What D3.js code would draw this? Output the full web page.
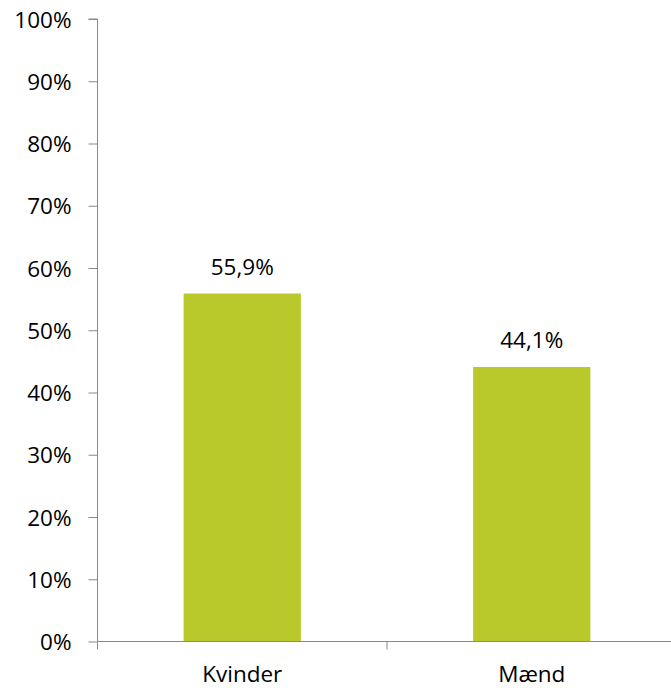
<!DOCTYPE html>
<html>
<head>
<meta charset="utf-8">
<script src="https://cdn.jsdelivr.net/npm/d3@7"></script>
<style>
  html, body { margin: 0; padding: 0; background: #fff; overflow: hidden; }
  svg { display: block; }
  text { font-family: "Open Sans", "Noto Sans", sans-serif; fill: #000; }
</style>
</head>
<body>
<script>
const categories = ["Kvinder", "Mænd"];
const values = [55.9, 44.1];
const valueLabels = ["55,9%", "44,1%"];
const yTicks = [0, 10, 20, 30, 40, 50, 60, 70, 80, 90, 100];

const W = 671, H = 688;
const x0 = 97.5, x1 = 676.5, y0 = 641.5, y1 = 19;
const axisColor = "#898989";
const barColor = "#B9C92C";
const fontSize = 22.5;

const svg = d3.select("body").append("svg").attr("width", W).attr("height", H);

const x = d3.scaleBand().domain(categories).range([x0, x1]).paddingInner(0).paddingOuter(0);
const y = d3.scaleLinear().domain([0, 100]).range([y0, y1]);
const barW = x.bandwidth() * 0.405;

// bars
svg.selectAll("rect.bar").data(categories).join("rect")
  .attr("class", "bar")
  .attr("x", (d) => x(d) + (x.bandwidth() - barW) / 2)
  .attr("width", barW)
  .attr("y", (d, i) => y(values[i]))
  .attr("height", (d, i) => y(0) - y(values[i]))
  .attr("fill", barColor);

// value labels
svg.selectAll("text.val").data(categories).join("text")
  .attr("class", "val")
  .attr("x", (d) => x(d) + x.bandwidth() / 2)
  .attr("y", (d, i) => y(values[i]) - 19)
  .attr("text-anchor", "middle")
  .attr("font-size", fontSize)
  .text((d, i) => valueLabels[i]);

// y axis
const yAxis = d3.axisLeft(y).tickValues(yTicks).tickFormat((d) => d + "%").tickSize(9).tickPadding(17);
const gy = svg.append("g").attr("transform", `translate(${x0},0)`).call(yAxis);
gy.select(".domain").attr("stroke", axisColor).attr("d", `M-9,${y1}H0V${y0}`);
gy.selectAll(".tick line").attr("stroke", axisColor);
gy.selectAll(".tick text").attr("font-size", fontSize).attr("font-family", '"Open Sans", sans-serif').attr("fill", "#000").attr("dy", "0.36em");

// x axis
const xAxis = d3.axisBottom(x).tickSize(0).tickPadding(0);
const gx = svg.append("g").attr("transform", `translate(0,${y0})`).call(xAxis);
gx.select(".domain").attr("stroke", axisColor).attr("d", `M${x0},0H${x1}`);
gx.selectAll(".tick text").attr("font-size", fontSize).attr("font-family", '"Open Sans", sans-serif').attr("fill", "#000").attr("dy", 0).attr("y", 40);

// category boundary ticks
const bounds = categories.map((c) => x(c)).concat([x1]);
gx.selectAll("line.bt").data(bounds).join("line")
  .attr("class", "bt")
  .attr("x1", (d) => d).attr("x2", (d) => d)
  .attr("y1", 0).attr("y2", 8)
  .attr("stroke", axisColor);
</script>
</body>
</html>
